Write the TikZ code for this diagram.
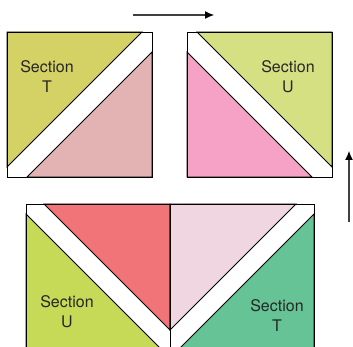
\documentclass[tikz,border=0pt]{standalone}
\usepackage{fontspec}
\setmainfont{TeX Gyre Heros}
\usetikzlibrary{arrows.meta}
\definecolor{olive}{RGB}{212,209,101}
\definecolor{rose}{RGB}{226,179,178}
\definecolor{lime}{RGB}{213,224,131}
\definecolor{pinkish}{RGB}{245,162,198}
\definecolor{leaf}{RGB}{199,218,88}
\definecolor{coral}{RGB}{240,116,120}
\definecolor{blush}{RGB}{240,214,224}
\definecolor{mint}{RGB}{101,195,150}
\begin{document}
\begin{tikzpicture}[
            x=1pt,y=-1pt,line width=0.8pt,line join=miter,
            piece/.style={draw=black},
            label node/.style={font=\fontsize{16}{20}\selectfont,align=center,text=black!85},
            flow/.style={draw=black!75,line width=1.1pt,-{Latex[length=9pt,width=8pt,black]}}]
        \useasboundingbox (0,0) rectangle (353,347);
        % Top left square
        \fill[piece,fill=olive] (7,32) -- (142,32) -- (7,167) -- cycle;
        \fill[piece,fill=rose] (152,52) -- (152,177) -- (27,177) -- cycle;
        \draw (7,32) rectangle (152,177);
        \node[label node] (t1) at (47,77) {Section\\T};

        % Top right square
        \fill[piece,fill=lime] (197,32) -- (332,32) -- (332,167) -- cycle;
        \fill[piece,fill=pinkish] (187,52) -- (187,177) -- (312,177) -- cycle;
        \draw (187,32) rectangle (332,177);
        \node[label node] (u1) at (288,77) {Section\\U};

        % Bottom pair
        \fill[piece,fill=leaf] (26,214) -- (26,348) -- (160,348) -- cycle;
        \fill[piece,fill=coral] (44,204) -- (170,204) -- (170,330) -- cycle;
        \fill[piece,fill=blush] (170,204) -- (296,204) -- (170,330) -- cycle;
        \fill[piece,fill=mint] (314,214) -- (314,348) -- (180,348) -- cycle;
        \draw (26,204) rectangle (314,348);
        \draw (170,204) -- (170,348);
        \node[label node] (u2) at (67,312) {Section\\U};
        \node[label node] (t2) at (277,316) {Section\\T};

        % Turn arrows
        \coordinate (h0) at (133,15);
        \coordinate (h1) at (214,15);
        \coordinate (v0) at (349,222);
        \coordinate (v1) at (349,151);
        \draw[flow] (h0) -- (h1);
        \draw[flow] (v0) -- (v1);
\end{tikzpicture}
\end{document}
